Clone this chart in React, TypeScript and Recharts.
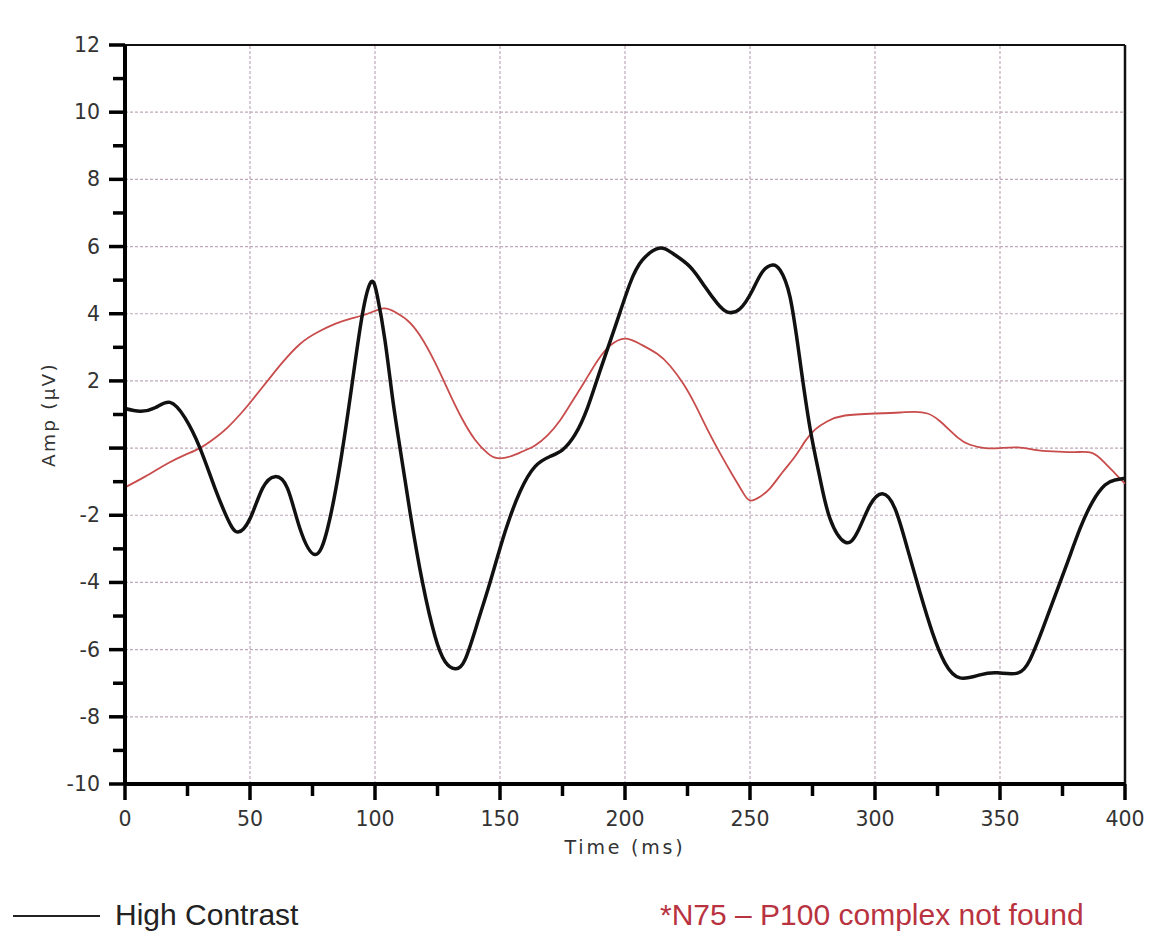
import React from 'react';
import { LineChart, Line, XAxis, YAxis, ReferenceLine, Label } from 'recharts';

// Time (ms) and amplitude (µV) samples
const blackTimes = [0, 6, 12, 18, 24, 30, 36, 41, 45, 50, 55, 60, 65, 70, 76, 81, 86, 91, 95, 98.5, 101, 104, 107, 110, 114, 119, 124, 128, 132, 136, 141, 146, 152, 158, 164, 170, 175, 180, 185, 190, 196, 202, 207, 213.5, 219, 226, 232, 237, 241, 246, 251, 255, 259, 262, 266, 270, 274, 278, 282, 288, 293, 298, 303, 308, 313, 318, 323, 328, 334, 342, 349, 357, 362, 367, 372, 377, 382, 387, 392, 396, 400];
const blackValues = [1.18, 1.1, 1.2, 1.36, 0.9, 0.0, -1.2, -2.1, -2.5, -2.1, -1.2, -0.85, -1.2, -2.4, -3.17, -2.4, -0.5, 2.0, 4.0, 4.95, 4.5, 3.2, 1.5, 0.0, -1.9, -4.0, -5.6, -6.35, -6.57, -6.3, -5.2, -4.0, -2.5, -1.3, -0.55, -0.25, -0.05, 0.4, 1.2, 2.3, 3.6, 4.9, 5.6, 5.95, 5.8, 5.4, 4.8, 4.3, 4.05, 4.15, 4.7, 5.25, 5.45, 5.3, 4.5, 2.6, 0.6, -0.9, -2.1, -2.8, -2.5, -1.7, -1.36, -1.8, -3.0, -4.3, -5.5, -6.4, -6.84, -6.75, -6.69, -6.7, -6.3, -5.4, -4.4, -3.4, -2.4, -1.6, -1.1, -0.95, -0.9];

const redTimes = [0, 8, 17, 24, 30, 36, 41, 46, 50, 57, 63, 70, 77, 84, 90, 97, 103.5, 108, 113, 118, 124, 130, 135, 140, 145, 149, 154, 159, 164, 169, 174, 179, 184, 189, 194, 200, 206, 213, 218, 223, 228, 233, 238, 243, 247, 250, 254, 258, 263, 268, 272, 276, 281, 288, 300, 310, 316, 321, 326, 333, 338, 344, 350, 357, 364, 371, 380, 387, 392, 396, 400];
const redValues = [-1.17, -0.85, -0.46, -0.2, 0.0, 0.3, 0.61, 1.0, 1.35, 2.0, 2.55, 3.1, 3.45, 3.7, 3.85, 4.0, 4.16, 4.05, 3.8, 3.35, 2.55, 1.6, 0.85, 0.25, -0.15, -0.3, -0.25, -0.1, 0.08, 0.38, 0.82, 1.4, 2.0, 2.6, 3.05, 3.26, 3.1, 2.8, 2.45, 1.95, 1.3, 0.55, -0.15, -0.8, -1.3, -1.56, -1.45, -1.2, -0.72, -0.25, 0.2, 0.55, 0.8, 0.97, 1.03, 1.06, 1.08, 1.03, 0.8, 0.32, 0.1, 0.0, 0.0, 0.02, -0.05, -0.1, -0.12, -0.15, -0.45, -0.75, -1.06];

const xTicks = [0, 25, 50, 75, 100, 125, 150, 175, 200, 225, 250, 275, 300, 325, 350, 375, 400];
const yTicks = [-10, -9, -8, -7, -6, -5, -4, -3, -2, -1, 0, 1, 2, 3, 4, 5, 6, 7, 8, 9, 10, 11, 12];
const xGrid = [50, 100, 150, 200, 250, 300, 350];
const yGrid = [-8, -6, -4, -2, 0, 2, 4, 6, 8, 10];

const xTitle = 'Time (ms)';
const yTitle = 'Amp (µV)';
const legendLabel = 'High Contrast';
const noteLabel = '*N75 – P100 complex not found';

const blackData = blackTimes.map((t, i) => ({ t, v: blackValues[i] }));
const redData = redTimes.map((t, i) => ({ t, v: redValues[i] }));

const tickFont = '"DejaVu Sans", Verdana, sans-serif';

const YTick = (props: any) => {
  const { x, y, payload } = props;
  const v = payload.value;
  const major = v % 2 === 0;
  return (
    <g>
      <line x1={x - (major ? 16 : 12)} x2={x} y1={y} y2={y} stroke="#000" strokeWidth={3.5} />
      {major && v !== 0 && (
        <text x={x - 25} y={y} textAnchor="end" dominantBaseline="central" fontSize={20.5} fill="#333" fontFamily={tickFont}>
          {v}
        </text>
      )}
    </g>
  );
};

const XTick = (props: any) => {
  const { x, y, payload } = props;
  const v = payload.value;
  const major = v % 50 === 0;
  return (
    <g>
      <line x1={x} x2={x} y1={y} y2={y + (major ? 16 : 12)} stroke="#000" strokeWidth={3.5} />
      {major && (
        <text x={x} y={y + 35} textAnchor="middle" dominantBaseline="central" fontSize={20.5} fill="#333" fontFamily={tickFont}>
          {v}
        </text>
      )}
    </g>
  );
};

const renderYTitle = (props: any) => {
  const vb = props.viewBox || {};
  const cx = 48;
  const cy = (vb.y || 0) + (vb.height || 0) / 2;
  return (
    <text x={cx} y={cy} transform={`rotate(-90 ${cx} ${cy})`} textAnchor="middle" dominantBaseline="central" fontSize={18.5} letterSpacing={2.2} fill="#333" fontFamily={tickFont}>
      {yTitle}
    </text>
  );
};

const renderXTitle = (props: any) => {
  const vb = props.viewBox || {};
  const cx = (vb.x || 0) + (vb.width || 0) / 2;
  return (
    <text x={cx} y={847} textAnchor="middle" dominantBaseline="central" fontSize={19} letterSpacing={2.8} fill="#333" fontFamily={tickFont}>
      {xTitle}
    </text>
  );
};

export default function App() {
  return (
    <div style={{ position: 'absolute', left: 0, top: 0, width: 1172, height: 951, background: '#fff' }}>
      <LineChart width={1172} height={870} margin={{ top: 45, right: 47, left: 0, bottom: 26 }}>
        <XAxis
          dataKey="t"
          type="number"
          domain={[0, 400]}
          ticks={xTicks}
          interval={0}
          tickSize={0}
          tickMargin={0}
          tickLine={false}
          tick={<XTick />}
          axisLine={{ stroke: '#000', strokeWidth: 4 }}
          height={60}
          allowDuplicatedCategory={false}
        >
          <Label content={renderXTitle} />
        </XAxis>
        <YAxis
          type="number"
          domain={[-10, 12]}
          ticks={yTicks}
          interval={0}
          tickSize={0}
          tickMargin={0}
          tickLine={false}
          tick={<YTick />}
          axisLine={{ stroke: '#000', strokeWidth: 4 }}
          width={125}
        >
          <Label content={renderYTitle} />
        </YAxis>
        {yGrid.map((g) => (
          <ReferenceLine key={`gy${g}`} y={g} stroke="#bfa9ba" strokeWidth={1.2} strokeDasharray="3 2" ifOverflow="visible" />
        ))}
        {xGrid.map((g) => (
          <ReferenceLine key={`gx${g}`} x={g} stroke="#bfa9ba" strokeWidth={1.2} strokeDasharray="3 2" ifOverflow="visible" />
        ))}
        <ReferenceLine y={12} stroke="#111" strokeWidth={2} ifOverflow="visible" />
        <ReferenceLine x={400} stroke="#111" strokeWidth={2.5} ifOverflow="visible" />
        <Line data={redData} dataKey="v" type="natural" stroke="#c94c4c" strokeWidth={1.8} dot={false} isAnimationActive={false} />
        <Line data={blackData} dataKey="v" type="natural" stroke="#111" strokeWidth={3.5} dot={false} isAnimationActive={false} />
      </LineChart>
      <div style={{ position: 'absolute', left: 13, top: 915, width: 87, height: 2, background: '#222' }} />
      <div style={{ position: 'absolute', left: 115, top: 900, fontSize: 30, lineHeight: '30px', fontFamily: '"Liberation Sans", Arial, sans-serif', color: '#222', whiteSpace: 'nowrap' }}>
        {legendLabel}
      </div>
      <div style={{ position: 'absolute', left: 660, top: 900, fontSize: 30, lineHeight: '30px', fontFamily: '"Liberation Sans", Arial, sans-serif', color: '#b8333f', whiteSpace: 'nowrap' }}>
        {noteLabel}
      </div>
    </div>
  );
}
